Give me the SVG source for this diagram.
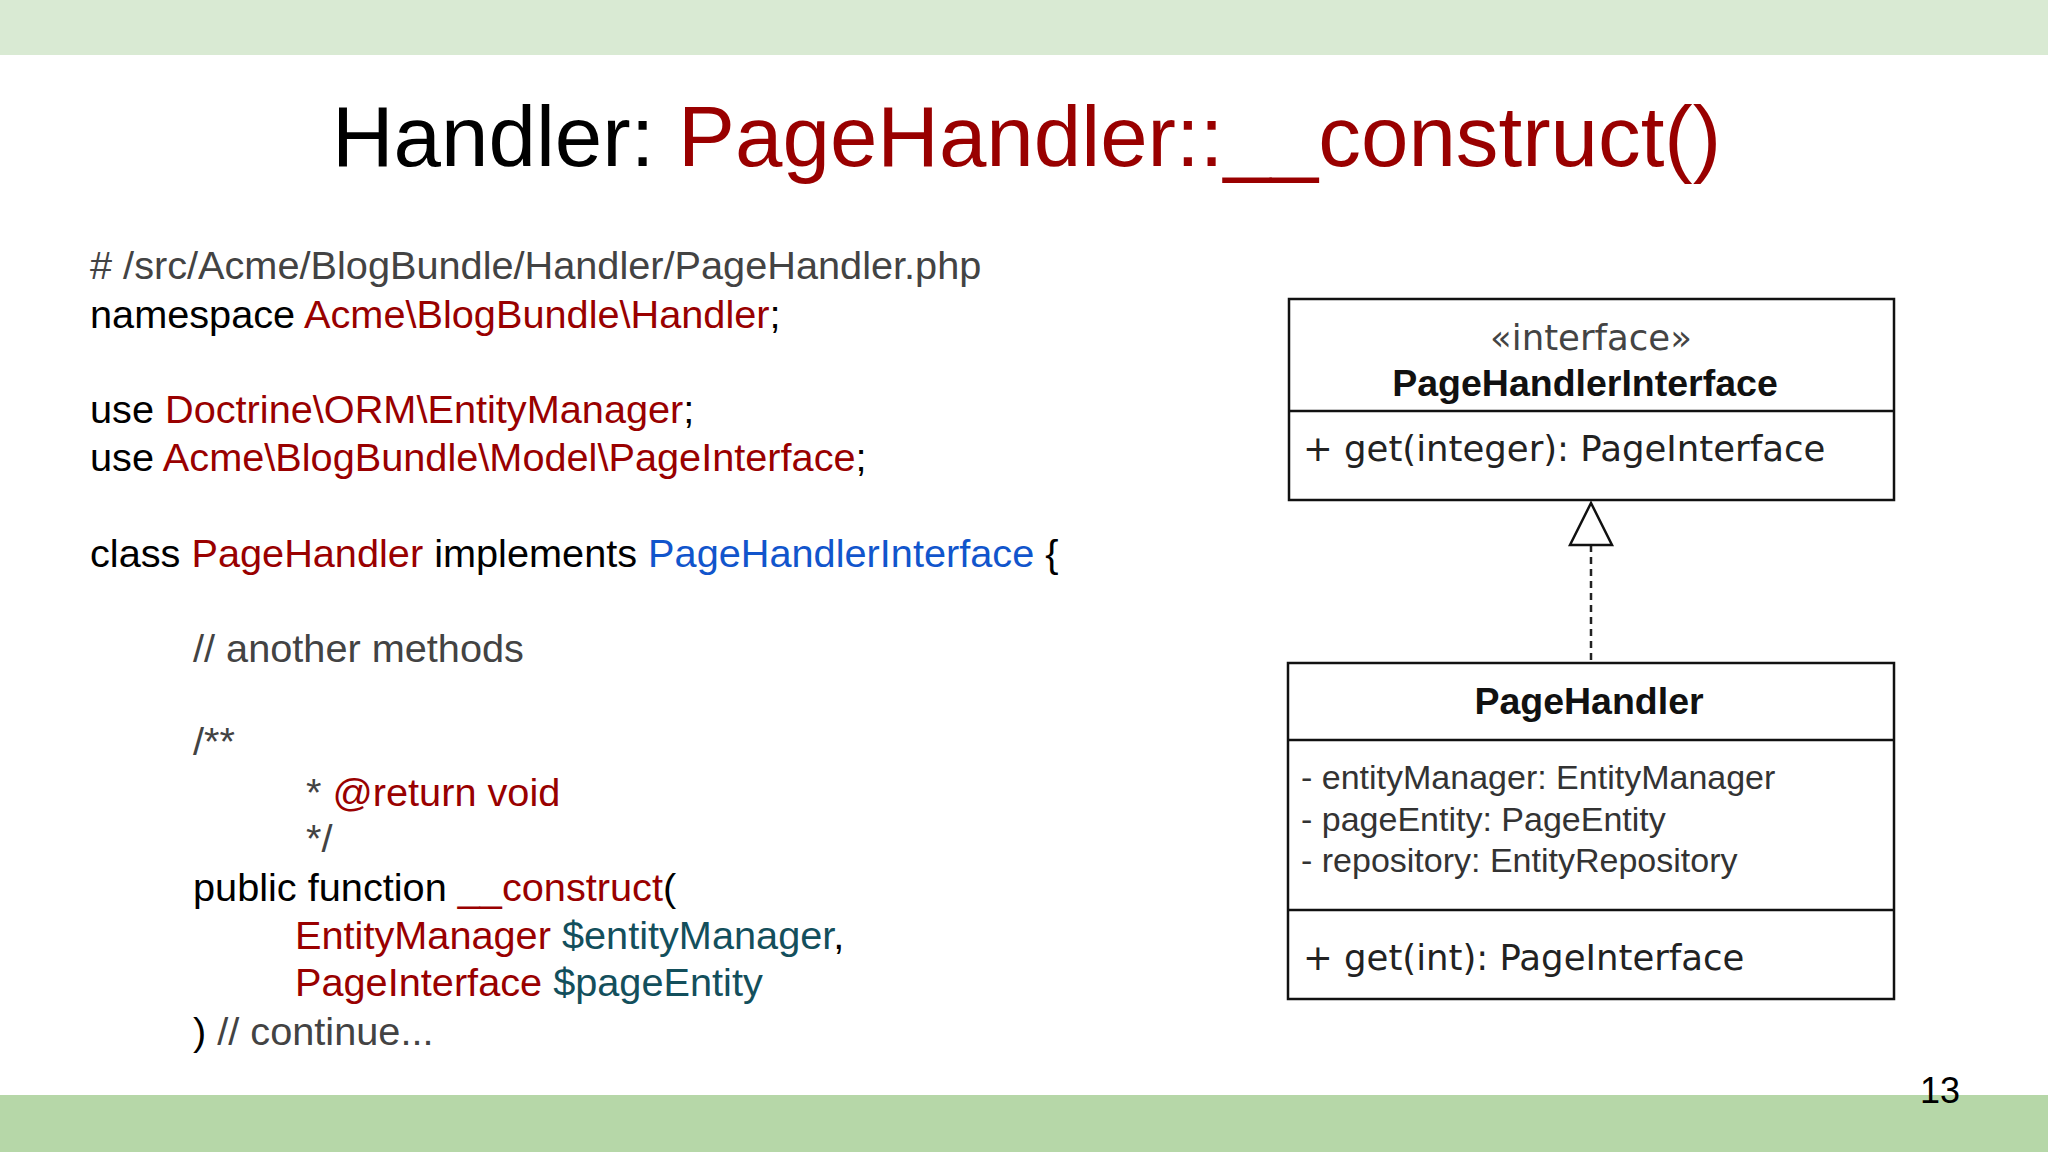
<svg xmlns="http://www.w3.org/2000/svg" width="2048" height="1152" viewBox="0 0 2048 1152">
<style>
.c{font-family:"Liberation Sans",Arial,sans-serif;font-size:39.7px;fill:#000}
.r{fill:#990000}.b{fill:#1155cc}.t{fill:#134f5c}.g{fill:#434343}
.u{font-family:"DejaVu Sans","Liberation Sans",sans-serif;font-size:35.5px;fill:#222}
.ub{font-family:"Liberation Sans",Arial,sans-serif;font-weight:bold;font-size:37.5px;fill:#111}
.a{font-family:"Liberation Sans",Arial,sans-serif;font-size:34px;fill:#333}
.box{fill:#fff;stroke:#111;stroke-width:2.5}
</style>
<rect x="0" y="0" width="2048" height="55" fill="#d9ead3"/>
<rect x="0" y="1095" width="2048" height="57" fill="#b6d7a8"/>
<text x="332" y="166" font-family="Liberation Sans,Arial,sans-serif" font-size="85.3" fill="#000">Handler: <tspan fill="#990000">PageHandler::__construct()</tspan></text>
<g id="code" xml:space="preserve">
<text class="c g" x="90" y="279"># /src/Acme/BlogBundle/Handler/PageHandler.php</text>
<text class="c" x="90" y="328">namespace <tspan class="r">Acme\BlogBundle\Handler</tspan>;</text>
<text class="c" x="90" y="423">use <tspan class="r">Doctrine\ORM\EntityManager</tspan>;</text>
<text class="c" x="90" y="471">use <tspan class="r">Acme\BlogBundle\Model\PageInterface</tspan>;</text>
<text class="c" x="90" y="567">class <tspan class="r">PageHandler</tspan> implements <tspan class="b">PageHandlerInterface</tspan> {</text>
<text class="c g" x="193" y="662">// another methods</text>
<text class="c g" x="193" y="755">/**</text>
<text class="c" x="306" y="806"><tspan class="g">* </tspan><tspan class="r">@return void</tspan></text>
<text class="c g" x="306" y="852">*/</text>
<text class="c" x="193" y="901">public function <tspan class="r">__construct</tspan>(</text>
<text class="c" x="295" y="949"><tspan class="r">EntityManager</tspan> <tspan class="t">$entityManager</tspan>,</text>
<text class="c" x="295" y="996"><tspan class="r">PageInterface</tspan> <tspan class="t">$pageEntity</tspan></text>
<text class="c" x="193" y="1045">) <tspan class="g">// continue...</tspan></text>
</g>
<g id="connectors">
<line x1="1591" y1="545" x2="1591" y2="663" stroke="#222" stroke-width="2.5" stroke-dasharray="7,5"/>
<polygon points="1591,503 1570,545 1612,545" fill="#fff" stroke="#111" stroke-width="2.5"/>
</g>
<g id="PageHandlerInterface">
<rect class="box" x="1289" y="299" width="605" height="201"/>
<line x1="1289" y1="411" x2="1894" y2="411" stroke="#111" stroke-width="2.5"/>
<text class="u" x="1591" y="350" text-anchor="middle" style="fill:#444">«interface»</text>
<text class="ub" x="1585" y="396" text-anchor="middle">PageHandlerInterface</text>
<text class="u" x="1303" y="461">+ get(integer): PageInterface</text>
</g>
<g id="PageHandler">
<rect class="box" x="1288" y="663" width="606" height="336"/>
<line x1="1288" y1="740" x2="1894" y2="740" stroke="#111" stroke-width="2.5"/>
<line x1="1288" y1="910" x2="1894" y2="910" stroke="#111" stroke-width="2.5"/>
<text class="ub" x="1589" y="714" text-anchor="middle">PageHandler</text>
<text class="a" x="1301" y="789">- entityManager: EntityManager</text>
<text class="a" x="1301" y="831">- pageEntity: PageEntity</text>
<text class="a" x="1301" y="872">- repository: EntityRepository</text>
<text class="u" x="1303" y="970">+ get(int): PageInterface</text>
</g>
<text x="1920" y="1103" font-family="Liberation Sans,Arial,sans-serif" font-size="36" fill="#000">13</text>
</svg>
